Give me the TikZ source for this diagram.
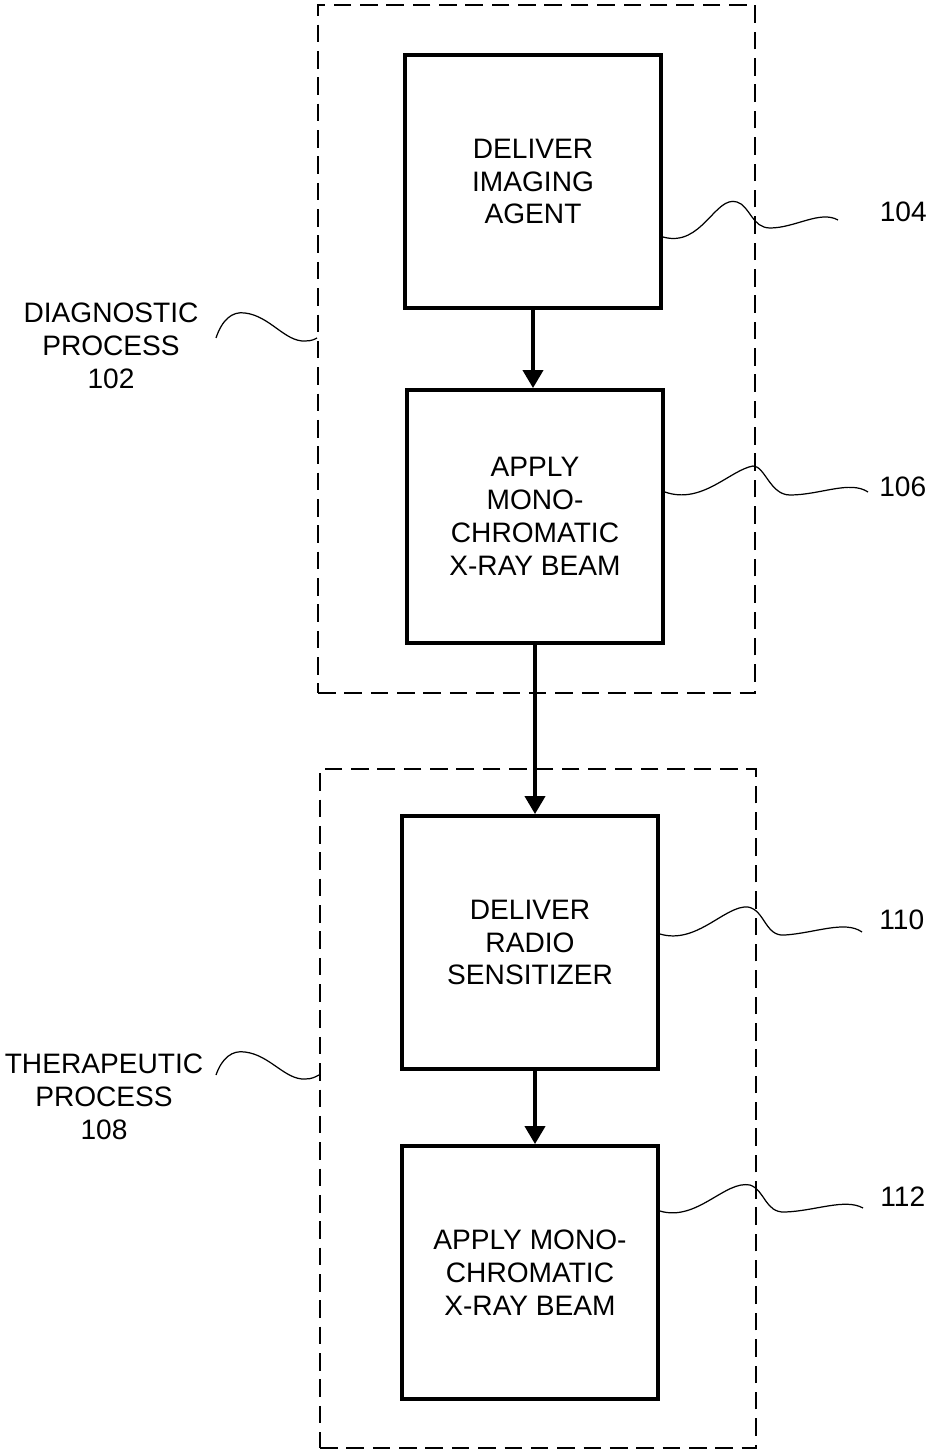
\documentclass[tikz,border=0pt]{standalone}
\usepackage{fontspec}
\setmainfont{Liberation Sans}
\usetikzlibrary{arrows.meta}

\tikzset{
  box/.style={draw, line width=2.2pt, minimum width=5.12cm, minimum height=5.06cm,
    align=center, font=\fontsize{16}{18.7}\selectfont},
  groupbox/.style={draw, line width=1.1pt, dash pattern=on 10pt off 5pt},
  flow/.style={line width=2.2pt, -{Triangle[length=0.36cm, width=0.4cm]}},
  leader/.style={line width=0.7pt},
  lbl/.style={inner sep=0pt, align=center, font=\fontsize{16}{18.7}\selectfont}
}

\begin{document}
\begin{tikzpicture}[x=0.02cm, y=-0.02cm]

\useasboundingbox (0,0) rectangle (927,1452);

% Dashed group boxes
\node[groupbox, minimum width=8.74cm, minimum height=13.76cm] (diag) at (536.5,349) {};
\node[groupbox, minimum width=8.72cm, minimum height=13.58cm] (ther) at (538,1108.5) {};

% Process boxes
\node[box] (b104) at (533,181.5) {DELIVER\\IMAGING\\AGENT};
\node[box] (b106) at (535,516.5) {APPLY\\MONO-\\CHROMATIC\\X-RAY BEAM};
\node[box] (b110) at (530,942.5) {DELIVER\\RADIO\\SENSITIZER};
\node[box] (b112) at (530,1272.5) {APPLY MONO-\\CHROMATIC\\X-RAY BEAM};

% Arrows between boxes
\draw[flow] (b104.south) -- (b104.south |- b106.north);
\draw[flow] (b106.south) -- (b106.south |- b110.north);
\draw[flow] ([xshift=0.1cm]b110.south) -- ([xshift=0.1cm]b112.north);

% Reference numerals
\node[lbl, anchor=east] (l104) at (927,212) {104};
\node[lbl, anchor=west] (l106) at (879,487) {106};
\node[lbl, anchor=west] (l110) at (879,920) {110};
\node[lbl, anchor=west] (l112) at (880,1197) {112};
\node[lbl] (l102) at (111,346) {DIAGNOSTIC\\PROCESS\\102};
\node[lbl] (l108) at (104,1097) {THERAPEUTIC\\PROCESS\\108};

% Free ends of the leader lines
\coordinate (c104) at (838,220);
\coordinate (c106) at (868,492);
\coordinate (c110) at (862,932);
\coordinate (c112) at (863,1208);
\coordinate (c102) at (216,338);
\coordinate (c108) at (216,1075);

% Leader lines
\draw[leader] ([yshift=-1.11cm]b104.east) .. controls +(39,11) and (715,195) .. (737,202)
  .. controls (750,206) and (752,228) .. (770,228) .. controls (795,228) and (820,210) .. (c104);
\draw[leader] ([yshift=0.49cm]b106.east) .. controls +(37,13) and (730,470) .. (753,466)
  .. controls (765,466) and (770,495) .. (790,495) .. controls (820,495) and (850,480) .. (c106);
\draw[leader] ([yshift=0.17cm]b110.east) .. controls +(37,11) and (725,905) .. (748,907)
  .. controls (765,910) and (765,937) .. (785,935) .. controls (815,933) and (845,920) .. (c110);
\draw[leader] ([yshift=1.23cm]b112.east) .. controls +(37,11) and (725,1180) .. (750,1185)
  .. controls (765,1190) and (765,1213) .. (785,1212) .. controls (815,1211) and (845,1198) .. (c112);
\draw[leader] (c102) .. controls (222,320) and (232,311) .. (245,313)
  .. controls (270,316) and (285,342) .. (305,341) .. controls (312,341) and (315,339) .. ([yshift=0.22cm]diag.west);
\draw[leader] (c108) .. controls (222,1058) and (232,1050) .. (245,1052)
  .. controls (270,1055) and (285,1080) .. (305,1079) .. controls (312,1079) and (315,1077) .. ([yshift=0.67cm]ther.west);

\end{tikzpicture}
\end{document}
